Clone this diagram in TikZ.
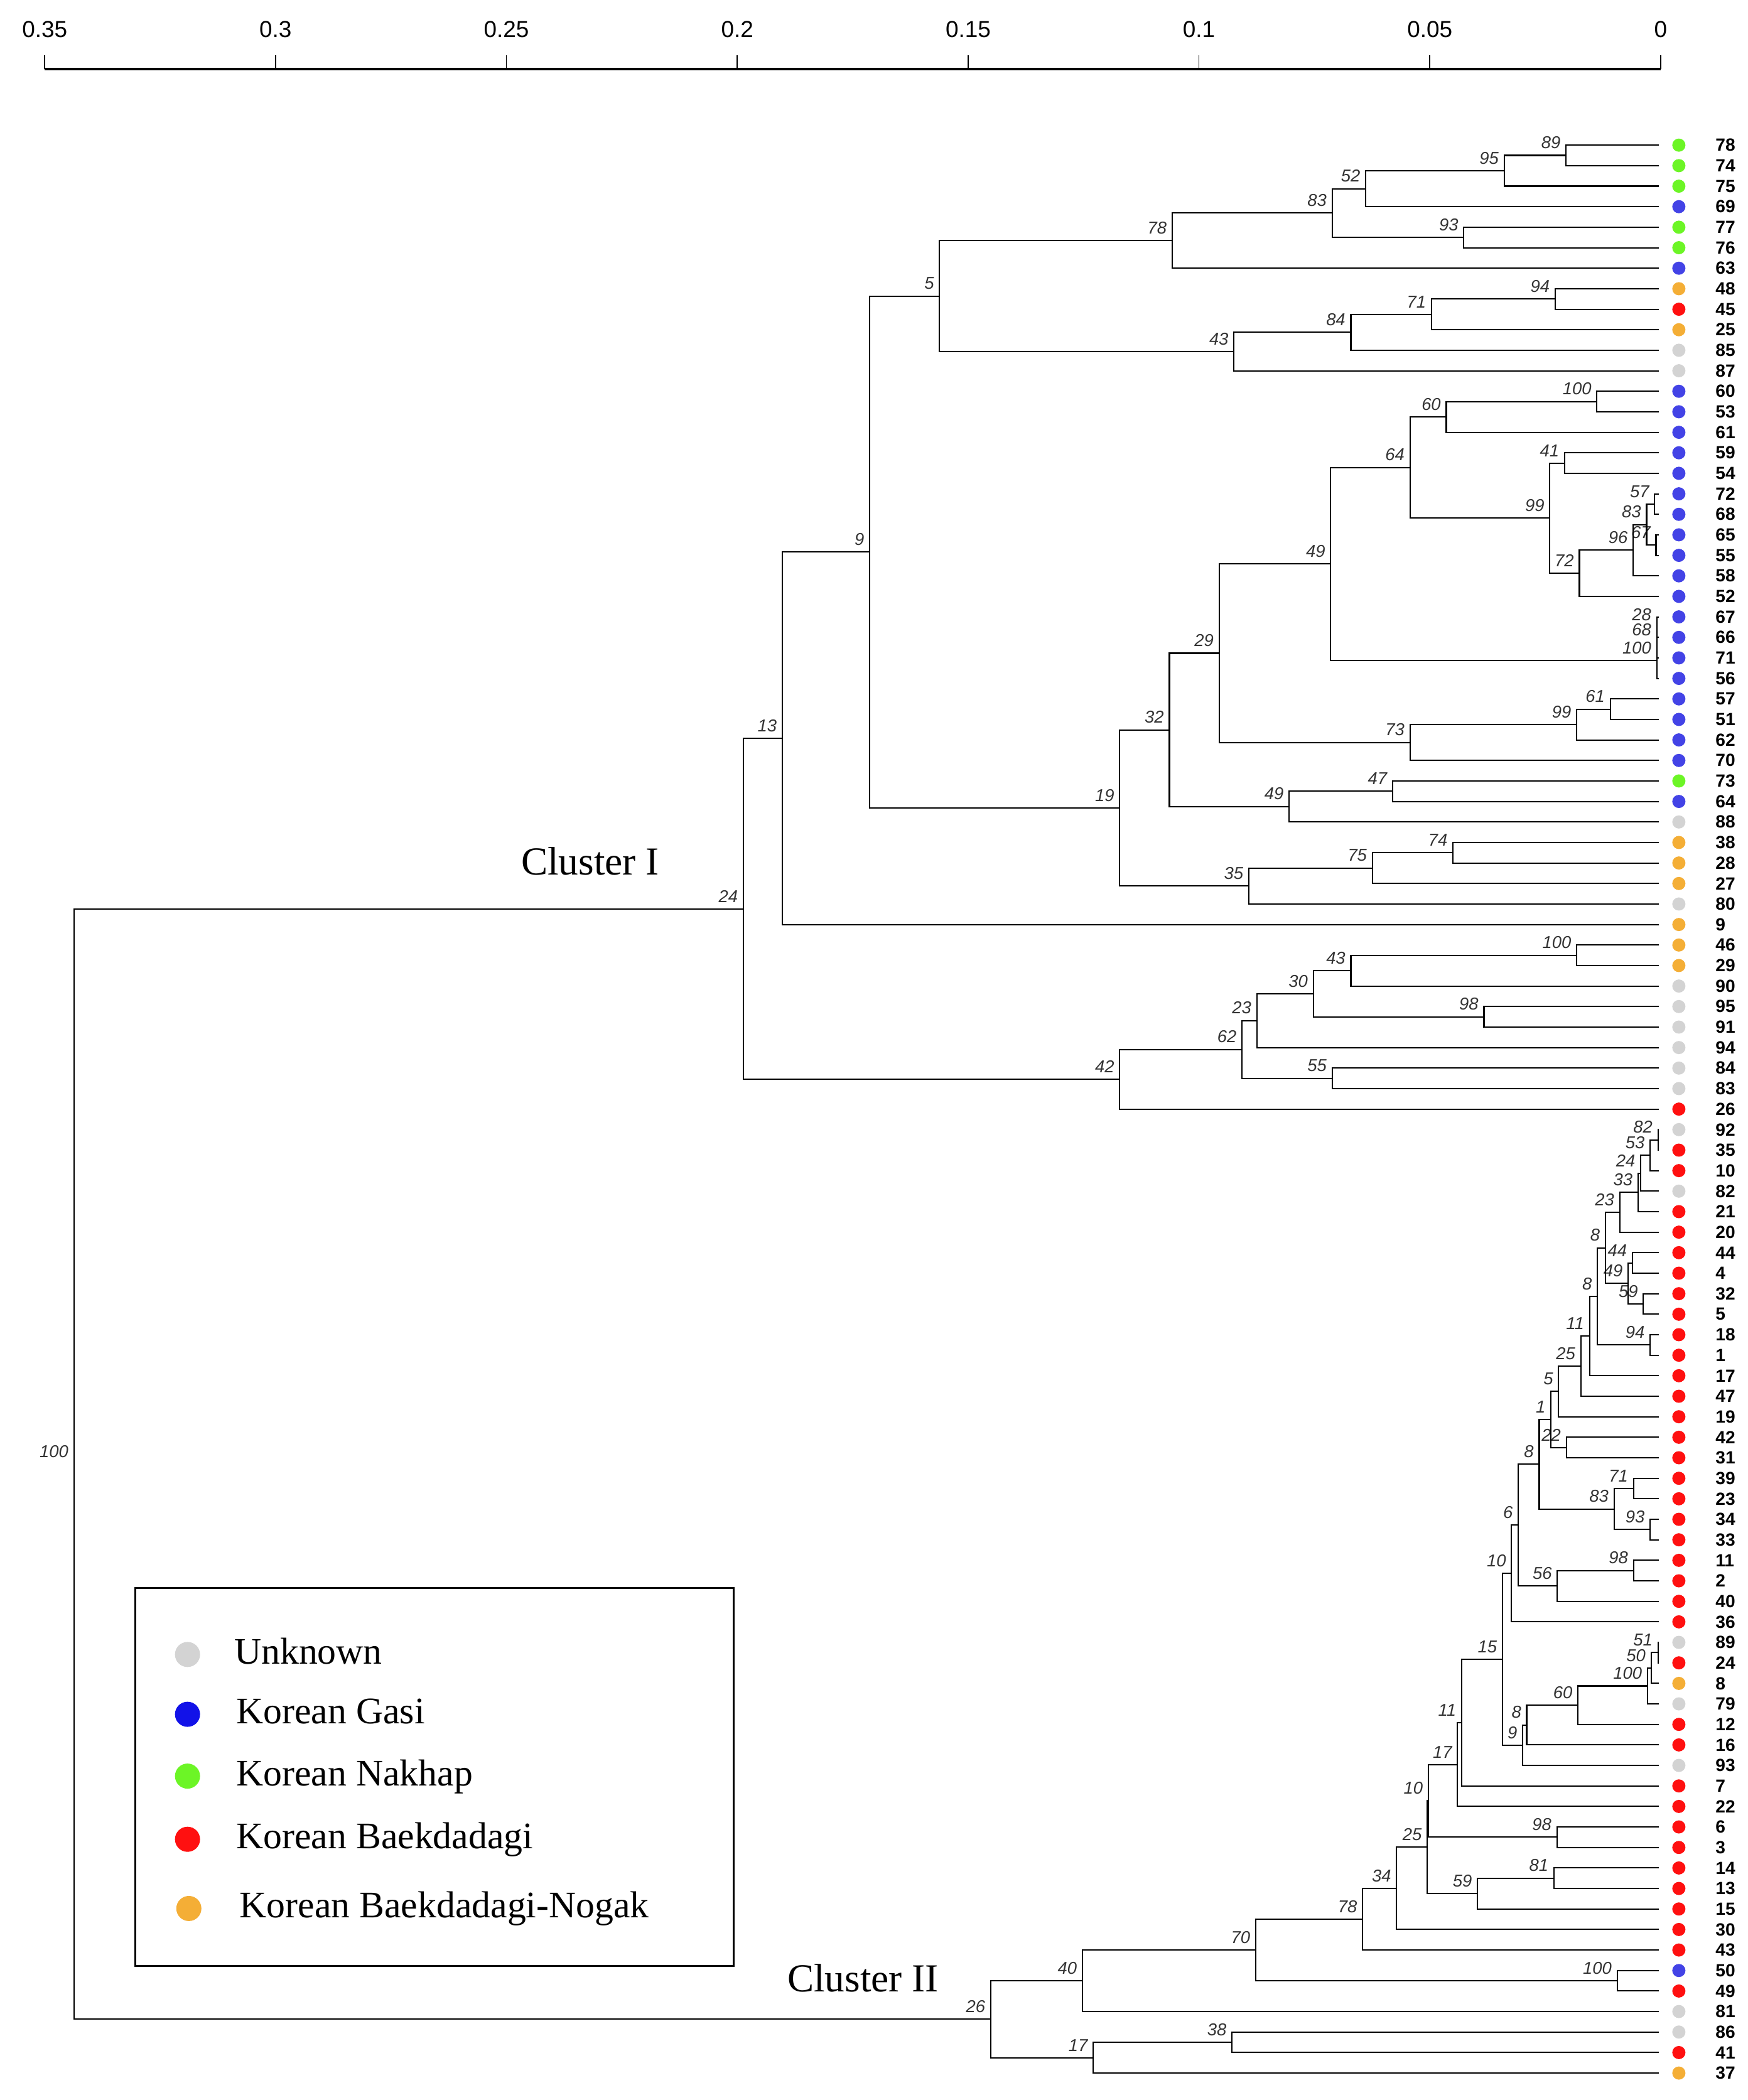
\documentclass[tikz,border=0pt]{standalone}
\usepackage{fontspec}
\setmainfont{Liberation Serif}
\newfontfamily\arial{Liberation Sans}
\usetikzlibrary{calc}
\definecolor{cU}{HTML}{D3D3D3}
\definecolor{cB}{HTML}{4343E6}
\definecolor{cLB}{HTML}{1212E8}
\definecolor{cG}{HTML}{6CF526}
\definecolor{cR}{HTML}{FF1010}
\definecolor{cO}{HTML}{F4AE36}
\newcommand\mkclade[5]{%
  \path ($(#3)!0.5!(#4)$) coordinate (#1m);
  \path (#2,0) coordinate (#1x);
  \path (#1x |- #1m) coordinate (#1);
  \draw[branch] (#3) -| (#1) |- (#4);
  \node[boot] (B#1) at (#1) {#5};}
\begin{document}
\begin{tikzpicture}[x=0.2141mm,y=-0.2141mm,
  branch/.style={line width=0.6pt, draw=black},
  boot/.style={font=\arial\itshape\fontsize{7.8}{9}\selectfont, text=black!80, anchor=south east, inner sep=0pt, xshift=-2.3pt, yshift=2.8pt},
  leaflab/.style={font=\arial\bfseries\fontsize{8}{9}\selectfont, anchor=west, inner sep=0pt},
  leafdot/.style={circle, inner sep=0pt, minimum size=2.1mm, draw=none},
  legdot/.style={circle, inner sep=0pt, minimum size=4.0mm, draw=none},
  legtext/.style={anchor=base west, inner sep=0pt, font=\fontsize{17}{20}\selectfont},
  clus/.style={inner sep=0pt, font=\fontsize{18}{20}\selectfont}]
\useasboundingbox (0,0) rectangle (1300,1562.5);
% axis
\foreach \t [count=\k from 0] in {0,0.05,0.1,0.15,0.2,0.25,0.3,0.35}{
  \coordinate (tt\k) at ({1235.5-171.75*\k},41);
  \coordinate (tb\k) at ({1235.5-171.75*\k},51.5);
  \draw[line width=0.5pt] (tt\k) -- (tb\k);
  \node[font=\arial\fontsize{10.5}{12}\selectfont, inner sep=0pt] (tl\k) at ({1235.5-171.75*\k},22) {\t};
}
\draw[line width=1.2pt] (tb7) -- (tb0);
% leaves
\foreach \lab/\col [count=\i from 0] in {78/cG, 74/cG, 75/cG, 69/cB, 77/cG, 76/cG, 63/cB, 48/cO, 45/cR, 25/cO,
 85/cU, 87/cU, 60/cB, 53/cB, 61/cB, 59/cB, 54/cB, 72/cB, 68/cB, 65/cB,
 55/cB, 58/cB, 52/cB, 67/cB, 66/cB, 71/cB, 56/cB, 57/cB, 51/cB, 62/cB,
 70/cB, 73/cG, 64/cB, 88/cU, 38/cO, 28/cO, 27/cO, 80/cU, 9/cO, 46/cO,
 29/cO, 90/cU, 95/cU, 91/cU, 94/cU, 84/cU, 83/cU, 26/cR, 92/cU, 35/cR,
 10/cR, 82/cU, 21/cR, 20/cR, 44/cR, 4/cR, 32/cR, 5/cR, 18/cR, 1/cR,
 17/cR, 47/cR, 19/cR, 42/cR, 31/cR, 39/cR, 23/cR, 34/cR, 33/cR, 11/cR,
 2/cR, 40/cR, 36/cR, 89/cU, 24/cR, 8/cO, 79/cU, 12/cR, 16/cR, 93/cU,
 7/cR, 22/cR, 6/cR, 3/cR, 14/cR, 13/cR, 15/cR, 30/cR, 43/cR, 50/cB,
 49/cR, 81/cU, 86/cU, 41/cR, 37/cO}{
  \coordinate (L\lab) at (1234,{108+15.26*\i});
  \node[leafdot, fill=\col] (D\lab) at (1249,{108+15.26*\i}) {};
  \node[leaflab] (T\lab) at (1276,{108+15.26*\i}) {\lab};
}
% ---- Cluster I
\mkclade{c89}{1165}{L78}{L74}{89}
\mkclade{c95}{1119}{c89}{L75}{95}
\mkclade{c52}{1016}{c95}{L69}{52}
\mkclade{c93a}{1089}{L77}{L76}{93}
\mkclade{c83a}{991}{c52}{c93a}{83}
\mkclade{c78}{872}{c83a}{L63}{78}
\mkclade{c94}{1157}{L48}{L45}{94}
\mkclade{c71}{1065}{c94}{L25}{71}
\mkclade{c84}{1005}{c71}{L85}{84}
\mkclade{c43}{918}{c84}{L87}{43}
\mkclade{c5}{699}{c78}{c43}{5}
\mkclade{c100a}{1188}{L60}{L53}{100}
\mkclade{c60}{1076}{c100a}{L61}{60}
\mkclade{c41}{1164}{L59}{L54}{41}
\mkclade{c57}{1231}{L72}{L68}{57}
\mkclade{c67}{1232}{L65}{L55}{67}
\mkclade{c83b}{1225}{c57}{c67}{83}
\mkclade{c96}{1215}{c83b}{L58}{96}
\mkclade{c72}{1175}{c96}{L52}{72}
\mkclade{c99a}{1153}{c41}{c72}{99}
\mkclade{c64}{1049}{c60}{c99a}{64}
\mkclade{c28}{1232.5}{L67}{L66}{28}
\mkclade{c68}{1232.5}{c28}{L71}{68}
\mkclade{c100b}{1232.5}{c68}{L56}{100}
\mkclade{c49a}{990}{c64}{c100b}{49}
\mkclade{c61}{1198}{L57}{L51}{61}
\mkclade{c99b}{1173}{c61}{L62}{99}
\mkclade{c73}{1049}{c99b}{L70}{73}
\mkclade{c29}{907}{c49a}{c73}{29}
\mkclade{c47}{1036}{L73}{L64}{47}
\mkclade{c49b}{959}{c47}{L88}{49}
\mkclade{c32}{870}{c29}{c49b}{32}
\mkclade{c74}{1081}{L38}{L28}{74}
\mkclade{c75}{1021}{c74}{L27}{75}
\mkclade{c35}{929}{c75}{L80}{35}
\mkclade{c19}{833}{c32}{c35}{19}
\mkclade{c9}{647}{c5}{c19}{9}
\mkclade{c13}{582}{c9}{L9}{13}
\mkclade{c100c}{1173}{L46}{L29}{100}
\mkclade{c43b}{1005}{c100c}{L90}{43}
\mkclade{c98a}{1104}{L95}{L91}{98}
\mkclade{c30}{977}{c43b}{c98a}{30}
\mkclade{c23a}{935}{c30}{L94}{23}
\mkclade{c55}{991}{L84}{L83}{55}
\mkclade{c62}{924}{c23a}{c55}{62}
\mkclade{c42}{833}{c62}{L26}{42}
\mkclade{c24}{553}{c13}{c42}{24}
% ---- Cluster II
\mkclade{c82}{1233.5}{L92}{L35}{82}
\mkclade{c53}{1227.6}{c82}{L10}{53}
\mkclade{c24b}{1220.6}{c53}{L82}{24}
\mkclade{c33}{1218.7}{c24b}{L21}{33}
\mkclade{c23b}{1205}{c33}{L20}{23}
\mkclade{c44}{1214.4}{L44}{L4}{44}
\mkclade{c59a}{1222.6}{L32}{L5}{59}
\mkclade{c49c}{1211.3}{c44}{c59a}{49}
\mkclade{c8a}{1194.3}{c23b}{c49c}{8}
\mkclade{c94b}{1227.6}{L18}{L1}{94}
\mkclade{c8b}{1188.4}{c8a}{c94b}{8}
\mkclade{c11a}{1182.6}{c8b}{L17}{11}
\mkclade{c25a}{1176}{c11a}{L47}{25}
\mkclade{c5b}{1159.5}{c25a}{L19}{5}
\mkclade{c22}{1165.3}{L42}{L31}{22}
\mkclade{c1}{1153.8}{c5b}{c22}{1}
\mkclade{c71b}{1215.3}{L39}{L23}{71}
\mkclade{c93b}{1227.6}{L34}{L33}{93}
\mkclade{c83c}{1200.8}{c71b}{c93b}{83}
\mkclade{c8c}{1145.1}{c1}{c83c}{8}
\mkclade{c98b}{1215.3}{L11}{L2}{98}
\mkclade{c56}{1158.6}{c98b}{L40}{56}
\mkclade{c6}{1129.6}{c8c}{c56}{6}
\mkclade{c10a}{1124.5}{c6}{L36}{10}
\mkclade{c51}{1233.5}{L89}{L24}{51}
\mkclade{c50}{1228.3}{c51}{L8}{50}
\mkclade{c100d}{1225.6}{c50}{L79}{100}
\mkclade{c60b}{1173.9}{c100d}{L12}{60}
\mkclade{c8d}{1135.8}{c60b}{L16}{8}
\mkclade{c9b}{1132.8}{c8d}{L93}{9}
\mkclade{c15}{1117.8}{c10a}{c9b}{15}
\mkclade{c11b}{1087.4}{c15}{L7}{11}
\mkclade{c17a}{1084.3}{c11b}{L22}{17}
\mkclade{c98c}{1158.3}{L6}{L3}{98}
\mkclade{c10b}{1062.6}{c17a}{c98c}{10}
\mkclade{c81}{1156}{L14}{L13}{81}
\mkclade{c59b}{1099.2}{c81}{L15}{59}
\mkclade{c25b}{1061.8}{c10b}{c59b}{25}
\mkclade{c34}{1039}{c25b}{L30}{34}
\mkclade{c78b}{1013.7}{c34}{L43}{78}
\mkclade{c100e}{1203.1}{L50}{L49}{100}
\mkclade{c70}{934.2}{c78b}{c100e}{70}
\mkclade{c40}{805.2}{c70}{L81}{40}
\mkclade{c38}{916.5}{L86}{L41}{38}
\mkclade{c17b}{813.3}{c38}{L37}{17}
\mkclade{c26}{737.1}{c40}{c17b}{26}
% ---- root
\mkclade{root}{55}{c24}{c26}{100}
% cluster labels
\node[clus] (clusterI) at (439,641) {Cluster I};
\node[clus] (clusterII) at (642,1472) {Cluster II};
% legend
\node[draw, line width=0.8pt, inner sep=0pt, minimum width=95.27mm, minimum height=60.16mm, anchor=north west] (legend) at (100,1181) {};
\node[legdot, fill=cU] (lgU) at (139.5,1231) {};
\node[legtext] (ltU) at (174,1238) {Unknown};
\node[legdot, fill=cLB] (lgB) at (139.5,1275.5) {};
\node[legtext] (ltB) at (175.5,1282.5) {Korean Gasi};
\node[legdot, fill=cG] (lgG) at (139.5,1321.5) {};
\node[legtext] (ltG) at (175.5,1328.5) {Korean Nakhap};
\node[legdot, fill=cR] (lgR) at (139.5,1368.5) {};
\node[legtext] (ltR) at (175.5,1375.5) {Korean Baekdadagi};
\node[legdot, fill=cO] (lgO) at (140.5,1420) {};
\node[legtext] (ltO) at (178,1427) {Korean Baekdadagi-Nogak};
\end{tikzpicture}
\end{document}
